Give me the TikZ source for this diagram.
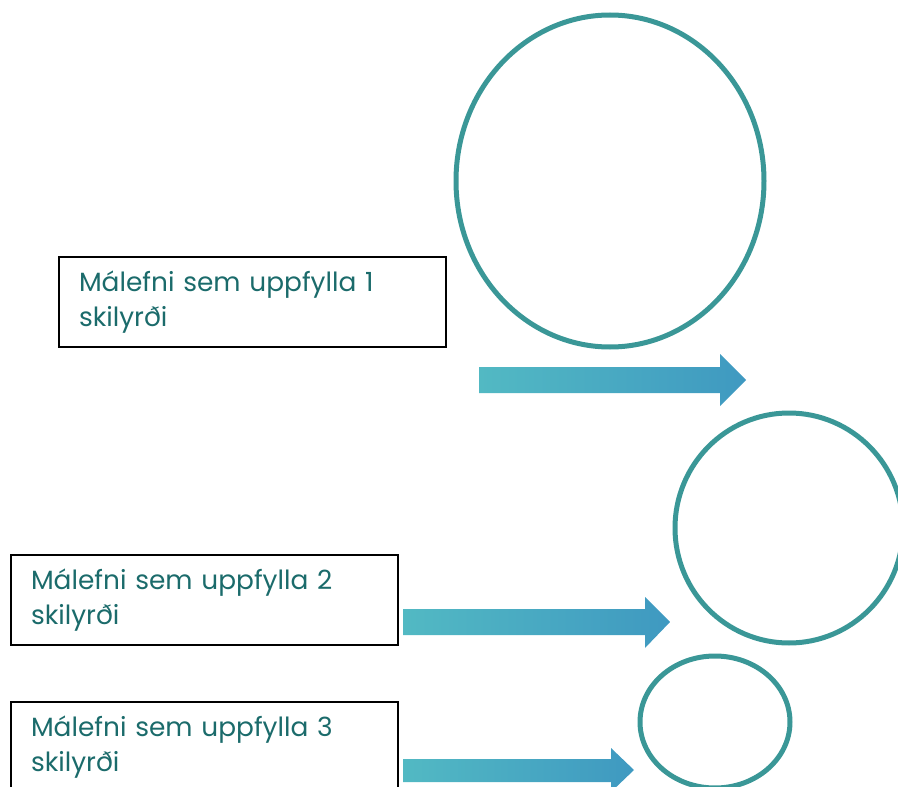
\documentclass[tikz,border=0pt]{standalone}
\usepackage{fontspec}
\setmainfont{Poppins}
\usetikzlibrary{shapes.geometric}

\definecolor{ringteal}{HTML}{3A9797}
\definecolor{labelteal}{HTML}{1B6B6B}
\definecolor{arrowleft}{HTML}{52B9C3}
\definecolor{arrowright}{HTML}{3F99C1}

\begin{document}
\begin{tikzpicture}[x=1pt,y=-1pt,
  malbox/.style={draw=black,line width=1.5pt,minimum width=387pt,minimum height=90pt,
    text width=347pt,inner xsep=20pt,align=left,text=labelteal,
    font=\fontsize{26.4}{35}\selectfont},
  ring/.style={draw=ringteal,line width=5pt,ellipse,inner sep=0pt},
  flow/.style={left color=arrowleft,right color=arrowright}]
\useasboundingbox (0,0) rectangle (898,787);
\clip (0,0) rectangle (898,787);

\node[malbox] (box1) at (252.5,302) {Málefni sem uppfylla 1\\skilyrði};
\node[malbox] (box2) at (204.5,600) {Málefni sem uppfylla 2\\skilyrði};
\node[malbox] (box3) at (204.5,747) {Málefni sem uppfylla 3\\skilyrði};

\node[ring,minimum width=308pt,minimum height=332pt] (ring1) at (610,181) {};
\node[ring,minimum width=228pt,minimum height=230pt] (ring2) at (789,528) {};
\node[ring,minimum width=150pt,minimum height=132pt] (ring3) at (715,722) {};

% arrows
\path[flow] (479,367) -- (720,367) -- (720,354) -- (746,380) -- (720,406) -- (720,393) -- (479,393) -- cycle;
\path[flow] (403,609) -- (645,609) -- (645,597) -- (670,622) -- (645,648) -- (645,635) -- (403,635) -- cycle;
\path[flow] (403,759) -- (611,759) -- (611,748) -- (634,770) -- (611,792) -- (611,782) -- (403,782) -- cycle;
\end{tikzpicture}
\end{document}
